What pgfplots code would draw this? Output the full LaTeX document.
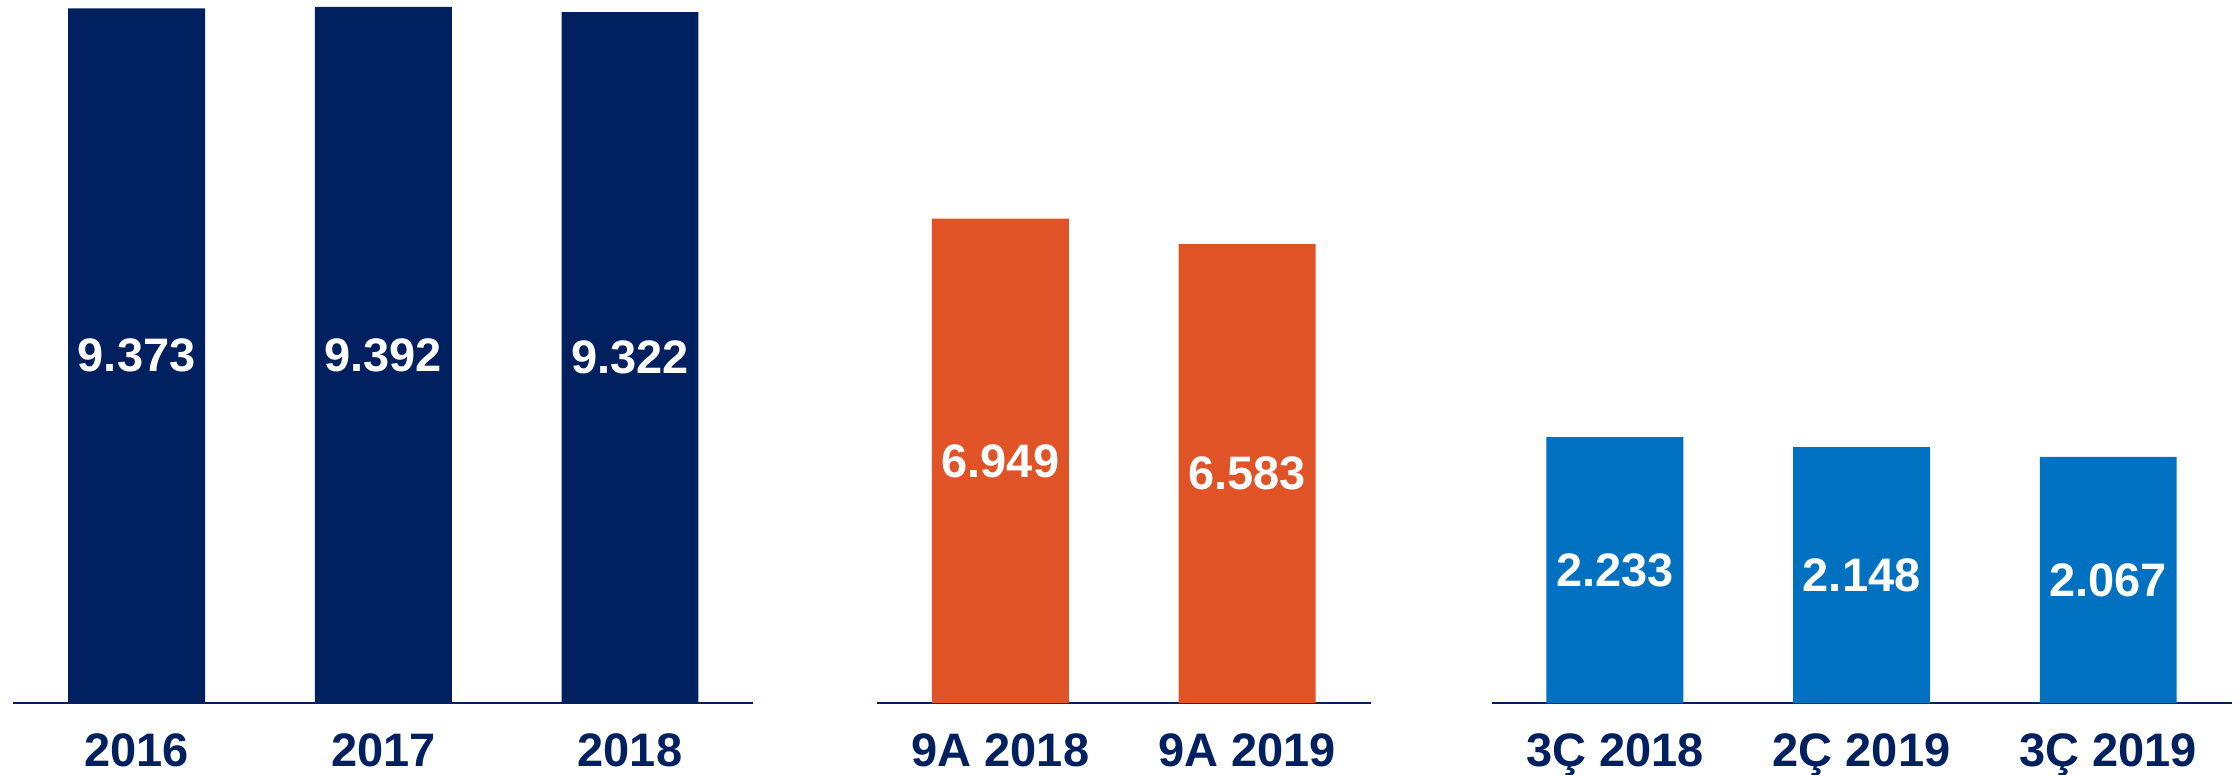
\documentclass[border=0pt]{standalone}
\usepackage{pgfplots}
\pgfplotsset{compat=1.18}
\usepackage{pgfplotstable}
\usepackage{fontspec}
\setmainfont{Liberation Sans}
\definecolor{navy}{HTML}{002060}
\definecolor{orng}{HTML}{E05326}
\definecolor{blu}{HTML}{0070C0}

\pgfplotstableread{
x v lab
0 9373 9.373
1 9392 9.392
2 9322 9.322
}\tA
\pgfplotstableread{
x v lab
0 6949 6.949
1 6583 6.583
}\tB
\pgfplotstableread{
x v lab
0 2233 2.233
1 2148 2.148
2 2067 2.067
}\tC

\newcommand{\lblfont}{\fontsize{11.75}{14}\selectfont\bfseries}

\pgfplotsset{
  panel/.style={
    scale only axis,
    height=175.75pt,
    ymin=0,
    xmin=-0.5,
    axis x line*=bottom,
    axis y line=none,
    x axis line style={draw=navy, line width=0.45pt},
    xtick=data,
    major tick length=0pt,
    xtick style={draw=none},
    xticklabel style={font=\lblfont, text=navy, anchor=base, yshift=-15.75pt},
    clip=false,
    anchor=south west,
  },
  vals/.style={draw=none, mark=none, nodes near coords, point meta=explicit symbolic,
    nodes near coords style={anchor=center, text=white, font=\lblfont}},
}

\begin{document}
\begin{tikzpicture}
\begin{axis}[panel, at={(3.33pt,17.75pt)}, width=185pt, xmax=2.5, ymax=9485,
  xticklabels={2016,2017,2018}]
\addplot[ybar, bar width=0.555, fill=navy, draw=none] table[x=x, y=v] {\tA};
\addplot[vals] table[x=x, y expr=\thisrow{v}/2, meta=lab] {\tA};
\end{axis}
\begin{axis}[panel, at={(219.25pt,17.75pt)}, width=123.4pt, xmax=1.5, ymax=10086,
  xticklabels={9A 2018,9A 2019}]
\addplot[ybar, bar width=0.555, fill=orng, draw=none] table[x=x, y=v] {\tB};
\addplot[vals] table[x=x, y expr=\thisrow{v}/2, meta=lab] {\tB};
\end{axis}
\begin{axis}[panel, at={(372.9pt,17.75pt)}, width=185pt, xmax=2.5, ymax=5903,
  xticklabels={3Ç 2018,2Ç 2019,3Ç 2019}]
\addplot[ybar, bar width=0.555, fill=blu, draw=none] table[x=x, y=v] {\tC};
\addplot[vals] table[x=x, y expr=\thisrow{v}/2, meta=lab] {\tC};
\end{axis}
\pgfresetboundingbox
\useasboundingbox (0,0) rectangle (559.75pt,193.5pt);
\end{tikzpicture}
\end{document}
